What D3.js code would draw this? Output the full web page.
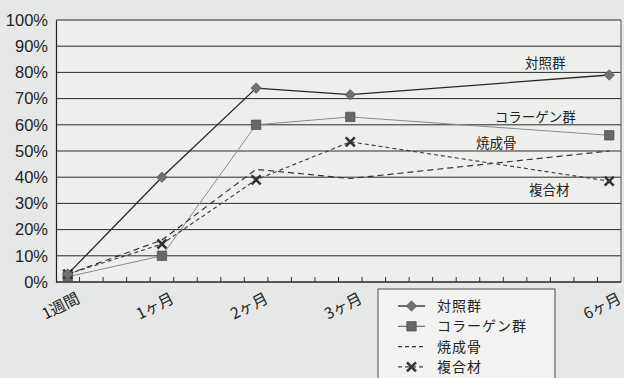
<!DOCTYPE html>
<html lang="ja">
<head>
<meta charset="UTF-8">
<title>骨形成率の推移</title>
<script src="https://d3js.org/d3.v7.min.js"></script>
<style>
  body { margin: 0; background: #e6e8e7; }
  svg { display: block; }
</style>
</head>
<body>
<svg width="624" height="378"></svg>
<script>
  // data
  const periods = ["1週間", "1ヶ月", "2ヶ月", "3ヶ月", "6ヶ月"];
  const periodWeek = [1, 5, 9, 13, 24];   // slot on the 24 week category axis
  const weeks = d3.range(1, 25);
  const yTicks = [0, 10, 20, 30, 40, 50, 60, 70, 80, 90, 100];

  const seriesNames = ["対照群", "コラーゲン群", "焼成骨", "複合材"];
  const control   = [3, 40, 74, 71.5, 79];
  const collagen  = [2, 10, 60, 63, 56];
  const sintered  = [3, 16, 43, 39.5, 50];
  const composite = [3, 14.5, 39, 53.5, 38.5];

  const svg = d3.select("svg");
  const plotL = 56, plotR = 621, plotT = 20, plotB = 282;

  const x = d3.scaleBand().domain(weeks).range([plotL, plotR]).padding(0);
  const y = d3.scaleLinear().domain([0, 100]).range([plotB, plotT]);
  const cx = w => x(w) + x.bandwidth() / 2;

  // plot area
  svg.append("rect")
    .attr("x", plotL).attr("y", plotT)
    .attr("width", plotR - plotL).attr("height", plotB - plotT)
    .attr("fill", "#eeefed");

  // grid lines
  svg.append("g")
    .selectAll("line")
    .data(yTicks)
    .join("line")
    .attr("x1", plotL).attr("x2", plotR)
    .attr("y1", d => y(d)).attr("y2", d => y(d))
    .attr("stroke", "#2b2b2b").attr("stroke-width", 1);

  // right border
  svg.append("line")
    .attr("x1", plotR).attr("x2", plotR).attr("y1", plotT).attr("y2", plotB)
    .attr("stroke", "#555");

  // y axis
  const yAxis = svg.append("g")
    .attr("transform", `translate(${plotL},0)`)
    .call(d3.axisLeft(y).tickValues(yTicks).tickSize(0).tickPadding(8).tickFormat(d => d + "%"));
  yAxis.select(".domain").attr("stroke", "#222").attr("stroke-width", 1.2);
  yAxis.selectAll("text")
    .attr("font-family", "'Liberation Sans', Arial, sans-serif")
    .attr("font-size", 16.5)
    .attr("fill", "#1e1e1e");

  // x axis: tick at every week boundary
  const xAxis = svg.append("g").attr("transform", `translate(0,${plotB})`);
  xAxis.append("line")
    .attr("x1", plotL).attr("x2", plotR)
    .attr("stroke", "#222").attr("stroke-width", 1.2);
  xAxis.selectAll("line.tick")
    .data(weeks.slice(1))
    .join("line")
    .attr("class", "tick")
    .attr("x1", d => x(d)).attr("x2", d => x(d))
    .attr("y1", 0).attr("y2", -5)
    .attr("stroke", "#333");

  xAxis.selectAll("text")
    .data(periods)
    .join("text")
    .attr("transform", (d, i) => `translate(${cx(periodWeek[i]) - 7},24) rotate(-27)`)
    .attr("dy", "0.35em")
    .attr("text-anchor", "middle")
    .attr("font-family", "'Noto Sans CJK JP', sans-serif")
    .attr("font-size", 15.5)
    .attr("fill", "#222")
    .text(d => d);

  // series
  const series = [
    { name: seriesNames[0], values: control,   color: "#262626", width: 1.3, dash: null,  marker: "diamond" },
    { name: seriesNames[1], values: collagen,  color: "#8a8a8a", width: 1,   dash: null,  marker: "square" },
    { name: seriesNames[2], values: sintered,  color: "#333",    width: 1.2, dash: "6,4", marker: null },
    { name: seriesNames[3], values: composite, color: "#444",    width: 1.2, dash: "4,3", marker: "cross" }
  ];

  const line = d3.line()
    .x((d, i) => cx(periodWeek[i]))
    .y(d => y(d));

  const symbolFor = {
    diamond: d3.symbol().type(d3.symbolSquare).size(56),
    square: d3.symbol().type(d3.symbolSquare).size(90),
    cross: d3.symbol().type(d3.symbolX).size(55)
  };

  function drawMarker(g, type, px, py) {
    if (!type) return;
    const p = g.append("path")
      .attr("d", symbolFor[type]())
      .attr("transform", `translate(${px},${py})` + (type === "diamond" ? " rotate(45)" : ""));
    if (type === "diamond") p.attr("fill", "#707070").attr("stroke", "#555").attr("stroke-width", 0.6);
    if (type === "square") p.attr("fill", "#676767").attr("stroke", "#444").attr("stroke-width", 0.6);
    if (type === "cross") p.attr("fill", "none").attr("stroke", "#333").attr("stroke-width", 2.6);
  }

  // draw thinner lines first so the control line stays on top
  [1, 2, 3, 0].forEach(k => {
    const s = series[k];
    const g = svg.append("g");
    g.append("path")
      .datum(s.values)
      .attr("d", line)
      .attr("fill", "none")
      .attr("stroke", s.color)
      .attr("stroke-width", s.width)
      .attr("stroke-dasharray", s.dash);
    s.values.forEach((v, i) => drawMarker(g, s.marker, cx(periodWeek[i]), y(v)));
  });

  // labels at the right end of each line
  const labelOffset = [[-64, -12], [-74, -18], [-113, -8], [-60, 9]];
  const last = periods.length - 1;
  svg.append("g")
    .selectAll("text")
    .data(series)
    .join("text")
    .attr("x", (s, k) => cx(periodWeek[last]) + labelOffset[k][0])
    .attr("y", (s, k) => y(s.values[last]) + labelOffset[k][1])
    .attr("dy", "0.35em")
    .attr("text-anchor", "middle")
    .attr("font-family", "'Noto Sans CJK JP', sans-serif")
    .attr("font-size", 13.5)
    .attr("fill", "#222")
    .text(s => s.name);

  // legend
  const legend = svg.append("g").attr("transform", "translate(378,289)");
  legend.append("rect")
    .attr("width", 177).attr("height", 100)
    .attr("fill", "#f2f2f0").attr("stroke", "#4a4a4a").attr("stroke-width", 1);

  series.forEach((s, k) => {
    const ry = 17 + k * 20.3;
    const row = legend.append("g");
    row.append("line")
      .attr("x1", 20).attr("x2", 47).attr("y1", ry).attr("y2", ry)
      .attr("stroke", k === 1 ? "#555" : s.color)
      .attr("stroke-width", s.width)
      .attr("stroke-dasharray", s.dash ? "4,3" : null);
    drawMarker(row, s.marker, 33.5, ry);
    row.append("text")
      .attr("x", 59).attr("y", ry).attr("dy", "0.35em")
      .attr("font-family", "'Noto Sans CJK JP', sans-serif")
      .attr("font-size", 14)
      .attr("letter-spacing", 1)
      .attr("fill", "#222")
      .text(s.name);
  });
</script>
</body>
</html>
